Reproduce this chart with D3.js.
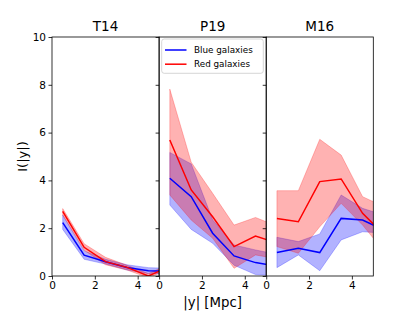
<!DOCTYPE html>
<html><head><meta charset="utf-8">
<script src="https://cdn.jsdelivr.net/npm/d3@7"></script>
<style>body{margin:0;background:#fff}svg{display:block}text{font-family:"DejaVu Sans",sans-serif}</style>
</head><body>
<svg id="c" width="415" height="311"></svg>
<script>
const xs = [0.5, 1.5, 2.5, 3.5, 4.5, 5.5];
const panels = ["T14", "P19", "M16"];
const xTicks = [0, 2, 4];
const yTicks = [0, 2, 4, 6, 8, 10];

const t14Blue   = [2.23, 0.87, 0.60, 0.36, 0.22, 0.20];
const t14BlueLo = [1.95, 0.70, 0.50, 0.25, 0.10, 0.08];
const t14BlueHi = [2.55, 1.05, 0.70, 0.47, 0.35, 0.32];
const t14Red    = [2.70, 1.20, 0.60, 0.36, 0.00, 0.40];
const t14RedLo  = [2.55, 1.08, 0.47, 0.25, -0.07, 0.30];
const t14RedHi  = [2.82, 1.35, 0.78, 0.45, 0.10, 0.50];

const p19Blue   = [4.09, 3.32, 1.79, 0.84, 0.56, 0.42];
const p19BlueLo = [2.97, 1.95, 1.37, 0.45, 0.06, 0.00];
const p19BlueHi = [5.17, 4.69, 2.35, 1.30, 1.09, 0.91];
const p19Red    = [5.69, 3.60, 2.48, 1.23, 1.67, 1.39];
const p19RedLo  = [3.39, 2.34, 1.58, 0.32, 0.88, 0.72];
const p19RedHi  = [7.82, 4.76, 3.46, 2.13, 2.45, 2.09];

const m16Blue   = [0.98, 1.16, 0.98, 2.41, 2.34, 1.92];
const m16BlueLo = [0.35, 0.88, 0.22, 1.51, 1.85, 1.80];
const m16BlueHi = [1.62, 1.44, 1.76, 3.39, 2.83, 2.55];
const m16Red    = [2.41, 2.27, 3.95, 4.06, 2.62, 1.74];
const m16RedLo  = [1.23, 0.95, 2.06, 3.04, 2.13, 1.03];
const m16RedHi  = [3.57, 3.57, 5.72, 5.06, 3.32, 2.90];

const data = [
  {blue: t14Blue, blueLo: t14BlueLo, blueHi: t14BlueHi, red: t14Red, redLo: t14RedLo, redHi: t14RedHi},
  {blue: p19Blue, blueLo: p19BlueLo, blueHi: p19BlueHi, red: p19Red, redLo: p19RedLo, redHi: p19RedHi},
  {blue: m16Blue, blueLo: m16BlueLo, blueHi: m16BlueHi, red: m16Red, redLo: m16RedLo, redHi: m16RedHi}
];

const svg = d3.select("#c");
const mLeft = 52, mTop = 37, pw = 107.1, ph = 239;
const y = d3.scaleLinear().domain([0, 10]).range([mTop + ph, mTop]);

panels.forEach((name, i) => {
  const x0 = mLeft + i * pw;
  const x = d3.scaleLinear().domain([0, 5]).range([x0, x0 + pw]);
  const d = data[i];
  const clipId = "clip" + i;
  svg.append("clipPath").attr("id", clipId).append("rect")
    .attr("x", x0).attr("y", mTop).attr("width", pw).attr("height", ph);
  const g = svg.append("g").attr("clip-path", `url(#${clipId})`);
  const area = (lo, hi) => d3.area().x((v, k) => x(xs[k])).y0((v, k) => y(lo[k])).y1((v, k) => y(hi[k]));
  const line = d3.line().x((v, k) => x(xs[k])).y(v => y(v));
  g.append("path").datum(xs).attr("d", area(d.blueLo, d.blueHi))
    .attr("fill", "blue").attr("fill-opacity", 0.3).attr("stroke", "blue").attr("stroke-opacity", 0.3).attr("stroke-width", 0.8);
  g.append("path").datum(xs).attr("d", area(d.redLo, d.redHi))
    .attr("fill", "red").attr("fill-opacity", 0.3).attr("stroke", "red").attr("stroke-opacity", 0.3).attr("stroke-width", 0.8);
  g.append("path").datum(d.blue).attr("d", line).attr("fill", "none").attr("stroke", "blue").attr("stroke-width", 1.5);
  g.append("path").datum(d.red).attr("d", line).attr("fill", "none").attr("stroke", "red").attr("stroke-width", 1.5);

  const xa = svg.append("g").attr("transform", `translate(0,${mTop + ph})`)
    .call(d3.axisBottom(x).tickValues(xTicks).tickFormat(d3.format("d")).tickSizeOuter(0).tickSize(3.5).tickPadding(2.5));
  xa.select(".domain").remove();
  xa.selectAll("text").attr("font-size", "10.5px").attr("fill", "#000");
  xa.selectAll("line").attr("stroke", "#000").attr("stroke-width", 0.8);

  const ya = svg.append("g").attr("transform", `translate(${x0},0)`)
    .call(d3.axisLeft(y).tickValues(yTicks).tickSize(3.5).tickPadding(2.5).tickFormat(i === 0 ? d3.format("d") : () => ""));
  ya.select(".domain").remove();
  ya.selectAll("text").attr("font-size", "10.5px").attr("fill", "#000");
  ya.selectAll("line").attr("stroke", "#000").attr("stroke-width", 0.8);

  svg.append("rect").attr("x", x0).attr("y", mTop).attr("width", pw).attr("height", ph)
    .attr("fill", "none").attr("stroke", "#000").attr("stroke-width", 0.8);

  svg.append("text").attr("x", x0 + pw / 2).attr("y", mTop - 6).attr("text-anchor", "middle")
    .attr("font-size", "13.5px").text(name);
});

svg.append("text").attr("transform", `translate(27,${mTop + ph / 2}) rotate(-90)`)
  .attr("text-anchor", "middle").attr("font-size", "13px").text("I(|y|)");
svg.append("text").attr("x", mLeft + 1.5 * pw).attr("y", 307).attr("text-anchor", "middle")
  .attr("font-size", "13.3px").text("|y| [Mpc]");

const lg = svg.append("g");
lg.append("rect").attr("x", 161.7).attr("y", 39).attr("width", 101.6).attr("height", 34.3).attr("rx", 2.5)
  .attr("fill", "#fff").attr("fill-opacity", 0.8).attr("stroke", "#ccc").attr("stroke-width", 0.8);
const legendItems = [["Blue galaxies", "blue"], ["Red galaxies", "red"]];
legendItems.forEach(([label, col], k) => {
  const yy = 50 + k * 14.2;
  lg.append("line").attr("x1", 165).attr("x2", 186.5).attr("y1", yy).attr("y2", yy).attr("stroke", col).attr("stroke-width", 1.5);
  lg.append("text").attr("x", 194).attr("y", yy + 3.2).attr("font-size", "8.8px").text(label);
});
</script>
</body></html>
